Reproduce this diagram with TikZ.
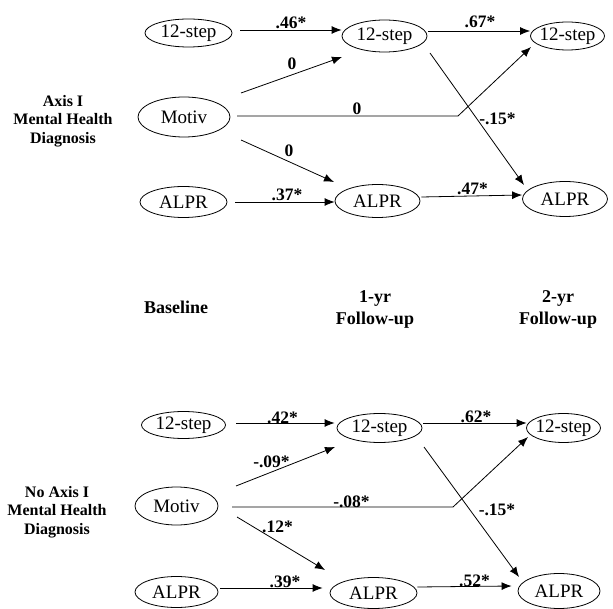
\documentclass[tikz,border=0pt]{standalone}
\usepackage{fontspec}
\setmainfont{Liberation Serif}
\usetikzlibrary{shapes.geometric,arrows.meta}
\begin{document}
\begin{tikzpicture}[x=1pt,y=-1pt,
  ell/.style={ellipse,draw,line width=0.8pt,inner ysep=0pt,inner xsep=-6pt,font=\fontsize{19}{23}\selectfont},
  arr/.style={line width=0.8pt,-{Latex[length=10pt,width=8pt]}},
  lab/.style={anchor=base,inner sep=0pt,font=\fontsize{17.5}{21}\selectfont\bfseries},
  side/.style={align=center,inner sep=0pt,font=\fontsize{16}{18.7}\selectfont\bfseries},
  head/.style={align=center,inner sep=0pt,font=\fontsize{18}{22}\selectfont\bfseries}]
\useasboundingbox (0,0) rectangle (613,609);

% ---------- top panel ----------
\node[side] (tside) at (63,121) {Axis I\\Mental Health\\Diagnosis};
\node[ell,minimum width=87pt,minimum height=28pt] (ts0) at (188.5,33) {12-step};
\node[ell,minimum width=85pt,minimum height=32pt] (ts1) at (384.5,36) {12-step};
\node[ell,minimum width=74pt,minimum height=28pt] (ts2) at (567.5,36) {12-step};
\node[ell,minimum width=92pt,minimum height=40pt] (tm) at (184,117) {Motiv};
\node[ell,minimum width=87pt,minimum height=31pt] (ta0) at (183.5,202) {ALPR};
\node[ell,minimum width=85pt,minimum height=33pt] (ta1) at (377.5,201) {ALPR};
\node[ell,minimum width=85pt,minimum height=35pt] (ta2) at (565,199) {ALPR};
\coordinate (tbend) at (458,116);

\draw[arr] ([shift={(8,-3)}]ts0.east) -- ([shift={(0,-6)}]ts1.west);
\draw[arr] ([shift={(1,-5)}]ts1.east) -- ([shift={(0,-5)}]ts2.west);
\draw[arr] ([shift={(57,-24)}]tm.center) -- ([shift={(-42.5,21)}]ts1.center);
\draw[arr] ([shift={(53,-1)}]tm.center) -- (tbend) -- ([shift={(-36.5,11)}]ts2.center);
\draw[arr] ([shift={(57,23)}]tm.center) -- ([shift={(-43.5,-19)}]ta1.center);
\draw[arr] ([shift={(45.5,17)}]ts1.center) -- ([shift={(-41,-14)}]ta2.center);
\draw[arr] ([shift={(8,0)}]ta0.east) -- ([shift={(0,1)}]ta1.west);
\draw[arr] ([shift={(1,-4)}]ta1.east) -- ([shift={(0,-4)}]ta2.west);

\node[lab] (tl1) at (291,29) {.46*};
\node[lab] (tl2) at (480,28) {.67*};
\node[lab] (tl3) at (292,70) {0};
\node[lab] (tl4) at (357,115) {0};
\node[lab] (tl5) at (289,157) {0};
\node[lab] (tl6) at (497.5,125) {-.15*};
\node[lab] (tl7) at (287,201) {.37*};
\node[lab] (tl8) at (472.5,195) {.47*};

% ---------- headers ----------
\node[head] (h0) at (176,307) {Baseline};
\node[head] (h1) at (375,309) {1-yr\\Follow-up};
\node[head] (h2) at (558,309) {2-yr\\Follow-up};

% ---------- bottom panel ----------
\node[side] (bside) at (57,512) {No Axis I\\Mental Health\\Diagnosis};
\node[ell,minimum width=84pt,minimum height=27pt] (bs0) at (183.5,425) {12-step};
\node[ell,minimum width=85pt,minimum height=29pt] (bs1) at (379.5,428) {12-step};
\node[ell,minimum width=74pt,minimum height=29pt] (bs2) at (563.5,428) {12-step};
\node[ell,minimum width=83pt,minimum height=38pt] (bm) at (176.5,506) {Motiv};
\node[ell,minimum width=83pt,minimum height=31pt] (ba0) at (176.5,592) {ALPR};
\node[ell,minimum width=87pt,minimum height=31pt] (ba1) at (373.5,593) {ALPR};
\node[ell,minimum width=82pt,minimum height=35pt] (ba2) at (559,591) {ALPR};
\coordinate (bbend) at (453,507);

\draw[arr] ([shift={(10.5,-2)}]bs0.east) -- ([shift={(-2,-5)}]bs1.west);
\draw[arr] ([shift={(1,-5)}]bs1.east) -- ([shift={(0.5,-5)}]bs2.west);
\draw[arr] ([shift={(59.5,-20)}]bm.center) -- ([shift={(-44.5,19)}]bs1.center);
\draw[arr] ([shift={(55.5,1)}]bm.center) -- (bbend) -- ([shift={(-35.5,9)}]bs2.center);
\draw[arr] ([shift={(60.5,11)}]bm.center) -- ([shift={(-48.5,-23)}]ba1.center);
\draw[arr] ([shift={(44.5,19)}]bs1.center) -- ([shift={(-40,-14)}]ba2.center);
\draw[arr] ([shift={(2,-4)}]ba0.east) -- ([shift={(-7,-5)}]ba1.west);
\draw[arr] ([shift={(0,-6)}]ba1.east) -- ([shift={(-6,-5)}]ba2.west);

\node[lab] (bl1) at (282.5,423) {.42*};
\node[lab] (bl2) at (476,422) {.62*};
\node[lab] (bl3) at (271.5,467) {-.09*};
\node[lab] (bl4) at (351.5,507) {-.08*};
\node[lab] (bl5) at (277.5,532) {.12*};
\node[lab] (bl6) at (497,515) {-.15*};
\node[lab] (bl7) at (285,587) {.39*};
\node[lab] (bl8) at (474.5,586) {.52*};
\end{tikzpicture}
\end{document}
